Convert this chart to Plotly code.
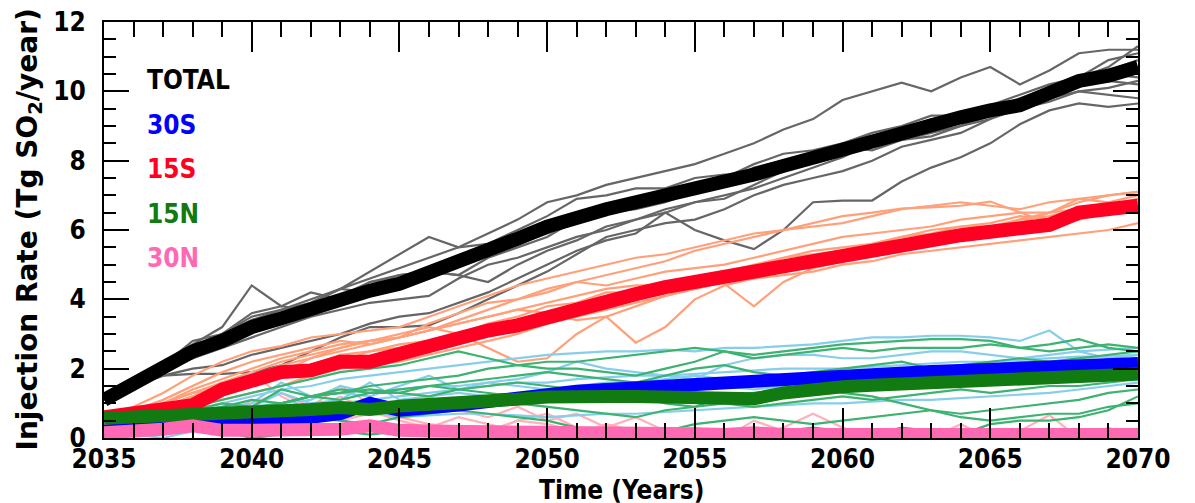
import plotly.graph_objects as go

years = list(range(2035, 2071))

# Ensemble-mean injection rates (Tg SO2/yr)
total_mean = [1.1,1.6,2.05,2.5,2.8,3.2,3.45,3.75,4.0,4.25,4.45,4.75,5.1,5.45,5.75,6.1,6.4,6.6,6.8,7.0,
              7.1,7.3,7.6,7.85,8.1,8.3,8.55,8.8,9.0,9.25,9.45,9.6,9.95,10.3,10.45,10.7]
s15_mean = [0.6,0.7,0.8,0.95,1.4,1.65,1.9,1.95,2.2,2.2,2.45,2.65,2.95,3.1,3.25,3.5,3.75,4.0,4.15,4.35,
            4.5,4.65,4.8,4.95,5.1,5.3,5.5,5.65,5.75,5.85,5.95,6.05,6.15,6.5,6.6,6.7]
s30_mean = [0.2,0.25,0.35,0.4,0.45,0.5,0.55,0.6,0.7,1.0,0.8,0.85,0.95,1.05,1.15,1.3,1.35,1.4,1.45,1.5,
            1.55,1.6,1.7,1.7,1.72,1.78,1.82,1.87,1.92,1.95,1.98,2.0,2.05,2.1,2.12,2.15]
n15_mean = [0.57,0.6,0.62,0.62,0.68,0.75,0.78,0.82,0.88,0.82,0.92,0.95,1.0,1.1,1.12,1.18,1.22,1.2,1.2,1.2,
            1.18,1.15,1.13,1.3,1.42,1.48,1.52,1.55,1.58,1.65,1.72,1.67,1.72,1.8,1.82,1.85]
n30_mean = [0.15,0.18,0.25,0.35,0.22,0.22,0.2,0.22,0.25,0.35,0.22,0.2,0.2,0.18,0.2,0.2,0.18,0.15,0.18,0.15,
            0.12,0.1,0.15,0.1,0.1,0.1,0.1,0.1,0.1,0.1,0.1,0.1,0.13,0.1,0.1,0.1]

# Individual ensemble members
total_m1 = [1.1,1.5,2.0,2.7,3.2,4.4,3.8,4.2,4.0,4.5,4.6,4.8,5.0,5.3,5.6,5.9,6.2,6.5,6.6,6.8,7.1,7.3,7.5,7.8,8.1,8.4,8.6,8.8,9.0,9.3,9.5,9.8,10.1,10.4,10.6,10.9]
total_m2 = [1.1,1.6,2.1,2.6,3.0,3.5,3.7,3.9,4.3,4.8,5.3,5.8,5.5,5.6,6.0,6.4,6.9,7.0,7.2,7.2,7.5,7.6,7.6,7.7,8.1,8.4,8.3,8.6,8.8,9.0,9.2,9.7,10.1,10.3,10.5,10.4]
total_m3 = [1.1,1.55,2.0,2.6,3.0,3.4,3.7,4.0,4.3,4.6,4.9,5.2,5.5,5.9,6.3,6.8,7.0,7.3,7.5,7.7,7.9,8.2,8.5,8.9,9.2,9.75,10.0,10.25,10.0,10.4,10.7,10.2,10.6,11.1,11.2,11.2]
total_m4 = [1.1,1.5,1.8,2.0,2.1,2.4,2.6,2.8,3.0,3.3,3.5,3.6,3.9,4.2,4.6,5.0,5.4,5.7,5.9,6.5,6.0,5.7,5.45,6.0,6.8,6.85,6.85,7.4,7.8,8.1,8.5,9.05,9.45,9.65,9.55,9.65]
total_m5 = [1.1,1.5,1.8,1.85,1.85,1.9,2.1,2.5,2.9,3.2,3.2,3.25,3.6,4.0,4.4,4.8,5.3,5.8,6.0,6.2,6.3,6.6,7.0,7.3,7.5,7.7,8.0,8.4,8.6,8.8,9.2,9.5,9.9,10.2,10.3,10.2]
total_m6 = [1.1,1.6,2.0,2.3,2.6,2.9,3.2,3.5,3.7,3.9,4.0,4.1,4.6,5.0,5.2,5.5,5.8,6.0,6.3,6.6,6.8,6.9,7.3,7.7,8.0,8.2,8.4,8.6,8.7,9.0,9.3,9.5,9.8,10.0,9.9,9.8]
total_m7 = [1.1,1.6,2.1,2.8,3.0,3.6,3.8,3.7,4.0,4.4,4.7,4.8,4.7,5.2,5.5,5.8,6.3,6.6,6.7,6.9,7.2,7.4,7.8,8.0,8.2,8.5,8.6,8.9,9.2,9.3,9.4,9.6,10.0,10.4,10.9,11.1]
total_m8 = [1.1,1.6,2.0,2.5,2.8,3.4,3.6,3.9,4.3,4.2,4.3,4.6,5.0,5.5,5.7,6.1,6.5,6.7,6.9,7.1,7.2,7.5,7.9,8.2,8.3,8.5,8.8,9.0,9.3,9.3,9.6,9.9,10.2,10.4,10.7,11.3]
total_m9 = [1.1,1.5,1.9,2.3,2.7,3.1,3.5,3.8,4.1,4.5,4.7,4.8,4.7,4.5,5.0,5.4,5.7,6.1,6.3,6.5,6.8,7.0,7.2,7.5,7.8,8.1,8.5,8.9,9.0,9.1,9.3,9.5,9.7,10.0,10.1,10.3]

s15_m1 = [0.6,0.9,1.3,1.8,2.2,2.5,2.65,2.9,3.0,3.1,3.2,3.5,3.8,4.1,4.4,4.6,4.8,5.0,5.2,5.3,5.5,5.7,5.9,6.0,6.1,6.2,6.4,6.6,6.7,6.8,6.7,6.6,6.8,6.9,7.0,7.1]
s15_m2 = [0.6,0.7,0.9,1.2,1.6,1.9,2.2,2.4,2.6,2.8,3.0,3.2,3.0,2.6,2.2,2.3,3.0,3.5,3.8,4.1,4.3,4.5,4.7,4.9,5.1,5.3,5.5,5.7,5.8,6.0,6.1,6.3,6.5,6.6,6.7,6.9]
s15_m3 = [0.6,0.7,0.8,1.0,1.4,1.7,1.9,2.3,2.6,2.8,2.9,3.1,3.3,3.5,3.7,3.6,3.4,3.5,2.75,3.2,4.0,4.4,4.6,4.8,5.0,5.2,5.4,5.5,5.7,5.8,6.0,6.1,6.3,6.4,6.6,6.8]
s15_m4 = [0.6,0.8,1.0,1.4,1.7,2.0,2.3,2.5,2.7,2.8,2.9,3.1,3.3,3.5,3.7,3.9,4.1,4.3,4.4,4.4,4.5,4.45,3.8,4.5,4.9,5.1,5.3,5.5,5.6,5.8,6.0,6.2,6.5,6.8,7.0,7.1]
s15_m5 = [0.6,0.7,1.0,1.3,1.6,1.8,2.1,2.3,2.5,2.7,2.9,3.1,3.4,3.7,4.0,4.3,4.5,4.7,4.9,5.1,5.4,5.6,5.8,6.0,6.2,6.4,6.5,6.62,6.65,6.7,6.82,6.5,6.2,6.3,6.5,6.6]
s15_m6 = [0.6,0.65,0.7,0.9,1.1,1.3,1.5,1.8,2.0,2.1,2.2,2.4,2.6,2.8,3.0,3.3,3.5,3.7,3.9,4.1,4.3,4.5,4.6,4.7,4.8,5.0,5.1,5.3,5.4,5.5,5.6,5.7,5.8,5.9,6.0,6.2]
s15_m7 = [0.6,0.8,1.1,1.5,1.9,2.2,2.4,2.6,2.8,2.7,2.9,3.3,3.6,3.9,4.0,4.2,4.5,4.4,4.6,4.8,4.9,5.0,5.2,5.4,5.6,5.8,5.9,6.0,6.1,6.3,6.4,6.5,6.5,6.9,6.8,7.0]
s15_m8 = [0.6,0.7,0.9,1.2,1.5,1.7,2.0,2.1,2.4,2.5,2.6,2.8,3.0,3.3,3.5,3.8,3.9,4.1,4.3,4.4,4.6,4.8,5.0,5.2,5.4,5.5,5.6,5.8,5.9,6.1,6.2,6.4,6.3,6.6,6.5,6.7]
s15_m9 = [0.6,0.75,1.0,1.3,1.4,1.6,1.8,2.0,2.2,2.5,2.7,2.8,3.0,3.2,3.4,3.6,3.9,4.2,4.2,4.3,4.4,4.6,4.9,5.2,5.3,5.4,5.6,5.8,6.0,6.1,6.1,6.3,6.4,6.6,6.7,6.9]

s30_m1 = [0.2,0.4,0.6,0.8,1.0,1.2,1.4,1.5,1.7,1.8,1.9,2.0,2.1,2.2,2.3,2.4,2.45,2.5,2.5,2.55,2.5,2.6,2.6,2.65,2.7,2.8,2.9,2.9,2.95,2.95,2.9,2.8,3.1,2.5,2.55,2.6]
s30_m2 = [0.2,0.3,0.5,0.7,0.9,1.0,1.6,1.2,1.3,1.2,1.5,1.8,1.4,1.6,1.7,1.9,2.2,2.0,1.9,1.8,1.7,2.1,2.3,2.4,2.4,2.3,2.3,2.4,2.5,2.5,2.4,2.3,2.4,2.5,2.3,2.4]
s30_m3 = [0.2,0.25,0.35,0.5,0.6,0.7,0.8,0.9,1.0,1.1,1.2,1.3,1.4,1.5,1.6,1.6,1.7,1.75,1.8,1.8,1.85,1.9,1.95,2.0,2.0,2.0,2.05,2.1,2.15,2.2,2.2,2.25,2.3,2.35,2.35,2.4]
s30_m4 = [0.2,0.2,0.3,0.4,0.6,0.9,1.3,1.0,1.1,1.6,1.1,1.2,1.3,1.2,1.3,1.2,1.3,1.4,1.4,1.5,1.5,1.6,1.6,1.7,1.7,1.8,1.8,1.9,1.9,2.0,2.0,2.0,2.1,2.1,2.2,2.3]
s30_m5 = [0.2,0.2,0.25,0.3,0.4,0.5,0.6,0.7,0.75,0.8,0.6,0.65,0.7,0.7,0.65,0.6,0.65,0.7,0.7,0.75,0.8,0.85,0.9,0.95,1.0,1.0,1.05,1.1,1.1,1.15,1.2,1.25,1.3,1.4,1.5,1.6]
s30_m6 = [0.2,0.3,0.4,0.5,0.6,0.8,1.0,1.1,1.5,1.3,1.4,1.5,1.5,1.6,1.5,1.4,1.5,1.6,1.6,1.7,1.8,1.7,1.6,1.7,1.8,1.9,1.9,2.0,2.0,2.1,2.1,2.2,2.2,2.3,2.35,2.4]
s30_m7 = [0.2,0.1,0.0,0.2,0.4,0.5,0.6,0.7,0.8,0.9,1.0,1.0,1.1,1.1,1.2,1.3,1.3,1.4,1.4,1.5,1.6,1.5,1.4,1.5,1.6,1.7,1.7,1.8,1.8,1.9,1.9,2.0,2.0,2.1,2.0,2.1]

n15_m1 = [0.57,0.6,0.7,0.9,1.1,1.3,1.5,1.7,1.9,2.0,2.1,2.3,2.5,2.3,2.1,2.0,2.0,1.9,1.8,2.0,2.2,2.5,2.4,2.5,2.6,2.7,2.75,2.8,2.85,2.85,2.8,2.6,2.7,2.85,2.6,2.5]
n15_m2 = [0.57,0.5,0.6,0.8,1.0,0.9,1.4,1.2,1.3,1.5,1.6,1.7,1.8,2.0,2.1,2.2,2.2,2.3,2.4,2.5,2.6,2.5,2.3,2.4,2.5,2.6,2.5,2.6,2.6,2.6,2.7,2.6,2.5,2.6,2.7,2.6]
n15_m3 = [0.57,0.6,0.6,0.7,0.8,0.9,1.0,1.2,1.1,1.3,1.4,1.5,1.6,1.7,1.8,1.9,1.8,1.7,1.6,1.8,2.0,2.1,1.9,1.8,1.9,2.0,2.1,2.2,2.0,2.1,2.2,2.3,2.2,2.3,2.4,2.5]
n15_m4 = [0.57,0.4,0.3,0.5,0.7,0.8,1.0,1.2,1.4,1.3,1.3,1.5,1.4,1.3,1.2,1.3,1.2,1.1,1.2,1.0,0.9,1.2,1.3,1.4,1.5,1.4,1.5,1.6,1.8,1.7,1.9,2.0,2.1,1.9,1.8,1.9]
n15_m5 = [0.57,0.5,0.5,0.6,0.5,0.6,0.8,0.7,0.9,0.8,0.9,1.0,1.0,1.1,1.0,0.9,0.8,0.7,0.6,0.8,0.9,1.0,0.9,1.0,1.1,1.2,1.1,1.2,1.3,1.4,1.3,1.4,1.5,1.5,1.6,1.7]
n15_m6 = [0.57,0.4,0.3,0.2,0.3,0.5,0.4,0.6,0.5,0.4,0.6,0.7,0.8,0.7,0.6,0.5,0.3,0.1,0.0,0.2,0.4,0.5,0.6,0.5,0.4,0.5,0.6,0.7,0.8,0.7,0.8,0.9,1.0,1.1,1.3,1.4]
n15_m7 = [0.57,0.6,0.7,0.8,0.9,1.1,1.0,1.2,1.3,1.4,1.3,1.2,1.4,1.5,1.6,1.5,1.4,1.5,1.6,1.5,1.4,1.6,1.7,1.6,1.5,1.3,1.2,1.0,0.8,0.6,0.5,0.6,0.7,0.7,0.9,1.0]
n15_m8 = [0.57,0.5,0.4,0.3,0.2,0.0,0.1,0.3,0.2,0.1,0.2,0.3,0.2,0.1,0.0,0.0,0.1,0.0,0.0,0.0,0.1,0.0,0.1,0.2,0.3,0.2,0.1,0.3,0.2,0.1,0.4,0.5,0.5,0.6,0.8,1.2]

n30_m1 = [0.15,0.3,0.6,1.0,1.3,1.9,1.2,0.8,0.5,0.7,0.6,0.4,0.3,0.2,0.5,0.4,0.2,0.1,0.0,0.0,0.3,0.1,0.0,0.0,0.0,0.0,0.0,0.0,0.0,0.0,0.0,0.0,0.0,0.0,0.0,0.0]
n30_m2 = [0.15,0.2,0.4,0.8,0.6,1.0,1.3,0.9,1.5,1.0,0.7,1.2,0.8,0.6,0.9,0.5,0.7,0.3,0.6,0.2,0.0,0.1,0.0,0.0,0.0,0.0,0.0,0.0,0.0,0.0,0.0,0.0,0.0,0.0,0.0,0.0]
n30_m3 = [0.15,0.1,0.2,0.4,0.9,0.6,0.4,0.7,1.2,0.8,0.5,0.3,0.6,0.4,0.2,0.3,0.1,0.4,0.2,0.0,0.0,0.0,0.0,0.3,0.7,0.3,0.0,0.0,0.0,0.0,0.0,0.2,0.66,0.0,0.0,0.0]
n30_m4 = [0.15,0.2,0.1,0.3,0.5,1.1,0.5,0.3,0.2,0.4,0.1,0.3,0.0,0.2,0.5,0.7,0.3,0.0,0.0,0.2,0.0,0.0,0.5,0.2,0.0,0.0,0.0,0.0,0.0,0.4,0.0,0.0,0.0,0.0,0.3,0.0]

x_ticks = [2035, 2040, 2045, 2050, 2055, 2060, 2065, 2070]
y_ticks = [0, 2, 4, 6, 8, 10, 12]

labels = ["TOTAL", "30S", "15S", "15N", "30N"]
label_colors = ["#000000", "#0000FF", "#FF0022", "#117A11", "#FF69B4"]

fig = go.Figure()

thin_groups = [
    ([total_m1, total_m2, total_m3, total_m4, total_m5, total_m6, total_m7, total_m8, total_m9], "#666666"),
    ([s15_m1, s15_m2, s15_m3, s15_m4, s15_m5, s15_m6, s15_m7, s15_m8, s15_m9], "#FFA07A"),
    ([n30_m1, n30_m2, n30_m3, n30_m4], "#FFB0BA"),
    ([s30_m1, s30_m2, s30_m3, s30_m4, s30_m5, s30_m6, s30_m7], "#87CEEB"),
    ([n15_m1, n15_m2, n15_m3, n15_m4, n15_m5, n15_m6, n15_m7, n15_m8], "#3CB371"),
]
for members, col in thin_groups:
    for m in members:
        fig.add_trace(go.Scatter(x=years, y=m, mode="lines",
                                 line=dict(color=col, width=2.2), showlegend=False, hoverinfo="skip"))

thick = [
    (total_mean, "#000000", 14),
    (s30_mean, "#0000FF", 13),
    (s15_mean, "#FF0022", 14),
    (n15_mean, "#117A11", 13),
    (n30_mean, "#FF69B4", 13),
]
for vals, col, w in thick:
    fig.add_trace(go.Scatter(x=years, y=vals, mode="lines",
                             line=dict(color=col, width=w), showlegend=False, hoverinfo="skip"))

tickfont = dict(family="DejaVu Sans Condensed", size=26, color="black", weight="bold")

fig.update_layout(
    width=1195, height=503,
    margin=dict(l=104, r=57, t=22, b=65),
    plot_bgcolor="white", paper_bgcolor="white",
    showlegend=False,
)
fig.update_xaxes(
    range=[2035, 2070], tickvals=x_ticks, ticktext=[str(v) for v in x_ticks],
    ticks="inside", ticklen=30, tickwidth=2, tickcolor="black",
    minor=dict(dtick=1, ticks="inside", ticklen=15, tickwidth=2, tickcolor="black", showgrid=False),
    showline=True, linecolor="black", linewidth=2, mirror="ticks",
    showgrid=False, zeroline=False, tickfont=tickfont, automargin=False,
    ticklabelstandoff=-3,
)
fig.update_yaxes(
    range=[0, 12], tickvals=y_ticks, ticktext=[str(v) for v in y_ticks],
    ticks="inside", ticklen=25, tickwidth=2, tickcolor="black",
    minor=dict(dtick=0.5, ticks="inside", ticklen=12, tickwidth=2, tickcolor="black", showgrid=False),
    showline=True, linecolor="black", linewidth=2, mirror="ticks",
    showgrid=False, zeroline=False, tickfont=tickfont, automargin=False,
    ticklabelstandoff=11,
)

# Series labels (legend-like text)
label_y = [0.861, 0.753, 0.647, 0.539, 0.433]
for txt, col, yy in zip(labels, label_colors, label_y):
    fig.add_annotation(text=txt, xref="paper", yref="paper", x=0.0397, y=yy,
                       xanchor="left", yanchor="middle", showarrow=False,
                       font=dict(family="DejaVu Sans Condensed", size=26, color=col, weight="bold"))

fig.add_annotation(text="Time (Years)", xref="paper", yref="paper", x=0.5, y=-0.125,
                   xanchor="center", yanchor="middle", showarrow=False,
                   font=dict(family="DejaVu Sans Condensed", size=26, color="black", weight="bold"))
fig.add_annotation(text="Injection Rate (Tg SO<sub>2</sub>/year)", xref="paper", yref="paper",
                   x=-0.073, y=0.5, xanchor="center", yanchor="middle", textangle=-90, showarrow=False,
                   font=dict(family="DejaVu Sans", size=28, color="black", weight="bold"))

fig.write_html("out.html", config={"displayModeBar": False},
               post_script="document.body.style.margin='0';document.body.style.overflow='hidden';")
